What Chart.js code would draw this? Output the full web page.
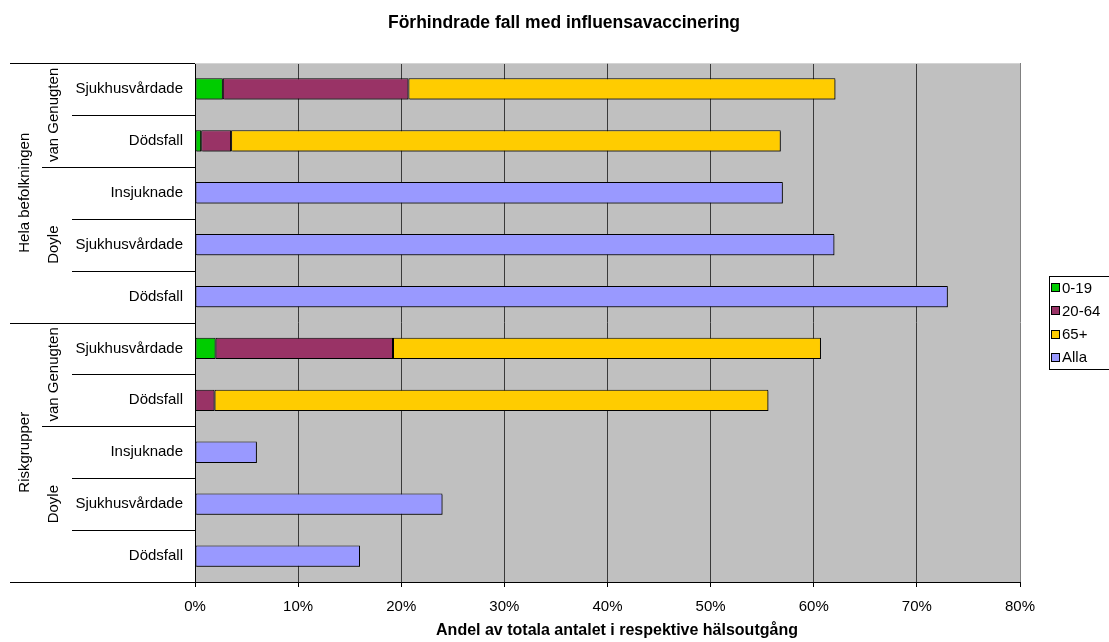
<!DOCTYPE html>
<html>
<head>
<meta charset="utf-8">
<script src="https://cdn.jsdelivr.net/npm/chart.js@4"></script>
<style>
  html, body { margin: 0; padding: 0; background: #fff; }
  #wrap { width: 1109px; height: 642px; position: relative; }
</style>
</head>
<body>
<div id="wrap"><canvas id="bar-graph"></canvas></div>
<script>
// categories, top to bottom
const categories = [
  'Sjukhusvårdade', 'Dödsfall', 'Insjuknade', 'Sjukhusvårdade', 'Dödsfall',
  'Sjukhusvårdade', 'Dödsfall', 'Insjuknade', 'Sjukhusvårdade', 'Dödsfall'
];
// second level (study) and its span in categories
const studies = ['van Genugten', 'Doyle', 'van Genugten', 'Doyle'];
const studySpans = [2, 3, 2, 3];
// outer level (population)
const populations = ['Hela befolkningen', 'Riskgrupper'];
const populationSpans = [5, 5];

// percent of all outcomes, per age group
const age0_19 = [2.7, 0.6, null, null, null, 2.0, null, null, null, null];
const age20_64 = [18.0, 2.9, null, null, null, 17.2, 1.9, null, null, null];
const age65 = [41.4, 53.3, null, null, null, 41.5, 53.7, null, null, null];
const alla = [null, null, 57.0, 62.0, 73.0, null, null, 6.0, 24.0, 16.0];

const xTicks = [0, 10, 20, 30, 40, 50, 60, 70, 80];

const FONT = "'Liberation Sans', Arial, sans-serif";

// gray plot area, title, axis title, grouped left axis and legend
const decor = {
  id: 'decor',
  beforeDraw(chart) {
    const { ctx, chartArea: a } = chart;
    ctx.save();
    ctx.fillStyle = '#C0C0C0';
    ctx.fillRect(a.left, a.top, a.right - a.left, a.bottom - a.top);
    ctx.restore();
  },
  beforeDatasetsDraw(chart) {
    const ctx = chart.ctx;
    ctx.save();
    ctx.shadowColor = 'rgba(0,0,0,0.45)';
    ctx.shadowOffsetX = 1.5;
    ctx.shadowOffsetY = 1.5;
    ctx.shadowBlur = 0;
  },
  afterDatasetsDraw(chart) {
    chart.ctx.restore();
  },
  afterDraw(chart) {
    const { ctx, chartArea: a } = chart;
    const y = chart.scales.y;
    const edge = i => (y.getPixelForValue(i - 1) + y.getPixelForValue(i)) / 2;
    const px = v => Math.round(v) + 0.5;

    ctx.save();
    // plot frame
    ctx.lineWidth = 1;
    ctx.strokeStyle = '#d4d4d4';
    ctx.beginPath();
    ctx.moveTo(a.left, px(a.top));
    ctx.lineTo(a.right, px(a.top));
    ctx.stroke();

    // category separators
    ctx.strokeStyle = '#000';
    const line = (yy, x0) => {
      ctx.beginPath();
      ctx.moveTo(x0, px(yy));
      ctx.lineTo(a.left, px(yy));
      ctx.stroke();
    };
    line(a.top, 10);
    line(a.bottom, 10);
    for (let i = 1; i < categories.length; i++) line(edge(i), 72);

    ctx.fillStyle = '#000';
    ctx.font = '15px ' + FONT;
    ctx.textAlign = 'center';
    ctx.textBaseline = 'middle';
    const vtext = (t, x, yy) => {
      ctx.save();
      ctx.translate(x, yy);
      ctx.rotate(-Math.PI / 2);
      ctx.fillText(t, 0, 0);
      ctx.restore();
    };

    let start = 0;
    studies.forEach((s, k) => {
      const end = start + studySpans[k];
      const y0 = start === 0 ? a.top : edge(start);
      const y1 = end === categories.length ? a.bottom : edge(end);
      if (start > 0) line(y0, 42);
      vtext(s, 54, (y0 + y1) / 2);
      start = end;
    });

    start = 0;
    populations.forEach((p, k) => {
      const end = start + populationSpans[k];
      const y0 = start === 0 ? a.top : edge(start);
      const y1 = end === categories.length ? a.bottom : edge(end);
      if (start > 0) line(y0, 10);
      vtext(p, 25, (y0 + y1) / 2);
      start = end;
    });

    // titles
    ctx.font = 'bold 17.5px ' + FONT;
    ctx.fillText('Förhindrade fall med influensavaccinering', 564, 23);
    ctx.font = 'bold 16px ' + FONT;
    ctx.fillText('Andel av totala antalet i respektive hälsoutgång', 617, 631);

    // legend
    ctx.strokeStyle = '#000';
    ctx.strokeRect(1049.5, 276.5, 80, 93);
    ctx.font = '15px ' + FONT;
    ctx.textAlign = 'left';
    chart.data.datasets.forEach((ds, i) => {
      const cy = 288 + i * 23.25;
      ctx.fillStyle = ds.backgroundColor;
      ctx.fillRect(1051.5, Math.round(cy) - 4.5, 8, 8);
      ctx.strokeRect(1051.5, Math.round(cy) - 4.5, 8, 8);
      ctx.fillStyle = '#000';
      ctx.fillText(ds.label, 1062, cy + 0.5);
    });
    ctx.restore();
  }
};

const barStyle = { borderColor: '#000', borderWidth: 1, borderSkipped: false, barPercentage: 0.41, categoryPercentage: 1 };

new Chart(document.getElementById('bar-graph'), {
  type: 'bar',
  data: {
    labels: categories,
    datasets: [
      { label: '0-19', data: age0_19, backgroundColor: '#00CC00', ...barStyle },
      { label: '20-64', data: age20_64, backgroundColor: '#993366', ...barStyle },
      { label: '65+', data: age65, backgroundColor: '#FFCC00', ...barStyle },
      { label: 'Alla', data: alla, backgroundColor: '#9999FF', ...barStyle }
    ]
  },
  options: {
    indexAxis: 'y',
    responsive: true,
    maintainAspectRatio: false,
    animation: false,
    devicePixelRatio: 1,
    layout: { padding: { top: 63, right: 89, bottom: 0, left: 0 } },
    plugins: {
      legend: { display: false },
      tooltip: { enabled: false },
      title: { display: false }
    },
    scales: {
      x: {
        stacked: true,
        min: 0,
        max: 80,
        afterFit(scale) { scale.height = 60; },
        afterBuildTicks(scale) { scale.ticks = xTicks.map(v => ({ value: v })); },
        ticks: {
          color: '#000',
          font: { family: FONT, size: 15 },
          padding: 11,
          maxRotation: 0,
          callback: v => v + '%'
        },
        grid: {
          color: c => (c.tick && c.tick.value === 80 ? '#808080' : '#3a3a3a'),
          tickColor: '#000',
          tickLength: 5,
          lineWidth: 1
        },
        border: { display: true, color: '#000', width: 1 }
      },
      y: {
        stacked: true,
        afterFit(scale) { scale.width = 195; },
        ticks: {
          color: '#000',
          font: { family: FONT, size: 15 },
          padding: 12,
          autoSkip: false
        },
        grid: { display: false, drawTicks: false },
        border: { display: true, color: '#000', width: 1 }
      }
    }
  },
  plugins: [decor]
});
</script>
</body>
</html>
